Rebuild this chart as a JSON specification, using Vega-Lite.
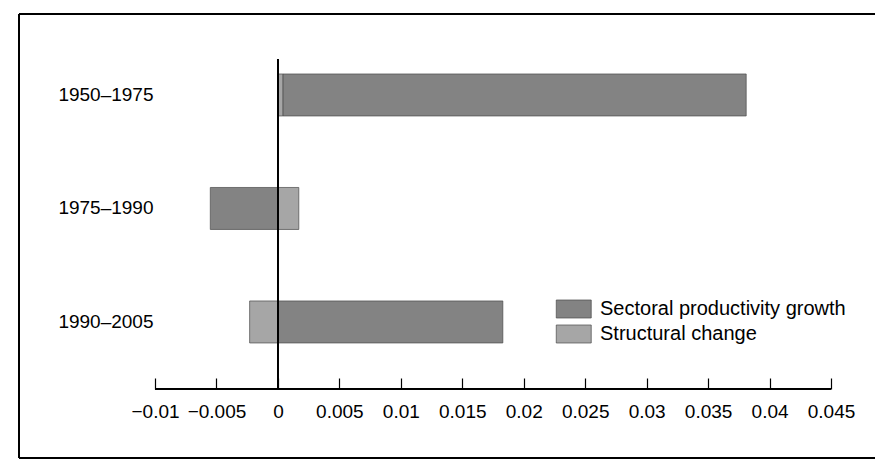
{
  "$schema": "https://vega.github.io/schema/vega-lite/v6.json",
  "width": 857,
  "height": 444,
  "padding": {"left": 18, "top": 13, "right": 0, "bottom": 10},
  "background": "white",
  "config": {
    "view": {"stroke": null},
    "font": "Liberation Sans"
  },
  "data": {
    "values": [
      {"period": "1950–1975", "series": "Sectoral productivity growth", "value": 0.0377},
      {"period": "1950–1975", "series": "Structural change", "value": 0.0004},
      {"period": "1975–1990", "series": "Sectoral productivity growth", "value": -0.0055},
      {"period": "1975–1990", "series": "Structural change", "value": 0.0017},
      {"period": "1990–2005", "series": "Sectoral productivity growth", "value": 0.0183},
      {"period": "1990–2005", "series": "Structural change", "value": -0.0023}
    ]
  },
  "layer": [
    {
      "mark": {"type": "bar", "height": {"band": 0.37}, "stroke": "#4a4a4a", "strokeWidth": 0.7},
      "encoding": {
        "y": {
          "field": "period",
          "type": "nominal",
          "scale": {
            "domain": ["1950–1975", "1975–1990", "1990–2005"],
            "paddingInner": 0,
            "paddingOuter": 0.456,
            "align": 0.234
          },
          "axis": {
            "title": null,
            "orient": "left",
            "offset": -136,
            "domain": false,
            "ticks": false,
            "labelPadding": 2,
            "labelFontSize": 19,
            "labelColor": "black",
            "labelFont": "Liberation Sans"
          }
        },
        "x": {
          "field": "value",
          "type": "quantitative",
          "stack": "zero",
          "scale": {"domain": [-0.021065, 0.048661], "nice": false, "zero": false},
          "axis": {
            "title": null,
            "values": [-0.01, -0.005, 0, 0.005, 0.01, 0.015, 0.02, 0.025, 0.03, 0.035, 0.04, 0.045],
            "format": "~g",
            "offset": -69,
            "domain": false,
            "grid": false,
            "ticks": true,
            "tickSize": -11,
            "tickColor": "black",
            "tickWidth": 1.2,
            "labelPadding": 24,
            "labelFontSize": 19,
            "labelColor": "black",
            "labelFont": "Liberation Sans",
            "labelFlush": false,
            "labelOverlap": false
          }
        },
        "color": {
          "field": "series",
          "type": "nominal",
          "scale": {
            "domain": ["Sectoral productivity growth", "Structural change"],
            "range": ["#838383", "#a6a6a6"]
          },
          "legend": {
            "title": null,
            "orient": "none",
            "legendX": 536,
            "legendY": 285,
            "padding": 0,
            "symbolType": "M-1,-1.03H3V1.03H-1Z",
            "symbolSize": 306,
            "symbolStrokeColor": "#4a4a4a",
            "symbolStrokeWidth": 0.7,
            "symbolOpacity": 1,
            "labelFontSize": 20,
            "labelColor": "black",
            "labelFont": "Liberation Sans",
            "labelOffset": 25,
            "labelLimit": 0,
            "rowPadding": 3
          }
        },
        "order": {"field": "series", "sort": "descending"}
      }
    },
    {
      "mark": {"type": "rule", "color": "black", "strokeWidth": 1.2},
      "encoding": {
        "x": {"datum": 0, "type": "quantitative"},
        "y": {"datum": "1950–1975", "type": "nominal", "bandPosition": 0.183},
        "y2": {"datum": "1990–2005", "bandPosition": 1.09}
      }
    },
    {
      "mark": {"type": "rule", "color": "black", "strokeWidth": 1.2},
      "encoding": {
        "x": {"datum": -0.01, "type": "quantitative"},
        "x2": {"datum": 0.045},
        "y": {"datum": "1990–2005", "type": "nominal", "bandPosition": 1.09}
      }
    },
    {
      "mark": {"type": "rule", "color": "black", "strokeWidth": 1.5},
      "encoding": {
        "y": {"datum": "1950–1975", "type": "nominal", "bandPosition": -0.2137}
      }
    },
    {
      "mark": {"type": "rule", "color": "black", "strokeWidth": 1.5},
      "encoding": {
        "y": {"datum": "1990–2005", "type": "nominal", "bandPosition": 1.698}
      }
    },
    {
      "mark": {"type": "rule", "color": "black", "strokeWidth": 1.5},
      "encoding": {
        "x": {"datum": -0.021065, "type": "quantitative"}
      }
    }
  ]
}
